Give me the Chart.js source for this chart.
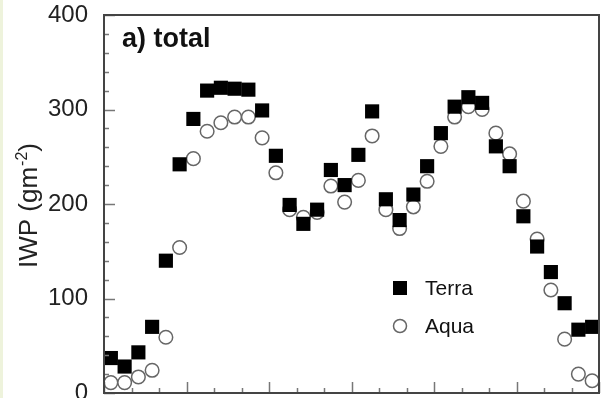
<!DOCTYPE html>
<html>
<head>
<meta charset="utf-8">
<script src="https://cdn.jsdelivr.net/npm/chart.js@4/dist/chart.umd.min.js"></script>
<style>
  html, body { margin: 0; padding: 0; background: #fff; overflow: hidden; }
  #wrap { position: absolute; left: 0; top: 0; width: 609px; height: 430px; }
  #edge { position: absolute; left: 0; top: 0; width: 3px; height: 398px; background: #eef3dc; }
</style>
</head>
<body>
<div id="wrap"><canvas id="iwpChart" width="609" height="430"></canvas></div>
<div id="edge"></div>
<script>
// ===== Data =====
// bin centres along the x axis (axis labels are cut off in the source)
const binCenters = [5, 15, 25, 35, 45, 55, 65, 75, 85, 95, 105, 115,
  125, 135, 145, 155, 165, 175, 185, 195, 205, 215, 225, 235,
  245, 255, 265, 275, 285, 295, 305, 315, 325, 335, 345, 355];

const terraIWP = [37, 28, 43, 70, 140, 242, 290, 320, 323, 322, 321, 299,
  251, 199, 179, 194, 236, 220, 252, 298, 205, 183, 210, 240,
  275, 303, 313, 307, 261, 240, 187, 155, 128, 95, 67, 70];

const aquaIWP = [11, 11, 17, 24, 59, 154, 248, 277, 286, 292, 292, 270,
  233, 194, 186, 191, 219, 202, 225, 272, 194, 174, 197, 224,
  261, 292, 303, 300, 275, 253, 203, 163, 109, 57, 20, 13];

const yTicks = [0, 100, 200, 300, 400];
const panelLabel = 'a) total';
const seriesNames = ['Terra', 'Aqua'];

const FONT = '"Liberation Sans", Arial, Helvetica, sans-serif';

function toPoints(vals) {
  return binCenters.map((x, i) => ({ x, y: vals[i] }));
}

// frame, inward tick marks, panel label, y title and legend
const decorPlugin = {
  id: 'decor',
  afterDatasetsDraw(chart) {
    const { ctx, chartArea: a, scales: { x, y } } = chart;
    ctx.save();

    // inward ticks: major/minor on left and bottom only
    ctx.strokeStyle = '#777';
    ctx.lineWidth = 1.5;
    ctx.beginPath();
    for (let v = y.min; v <= y.max; v += 20) {
      const py = Math.round(y.getPixelForValue(v)) + 0.5;
      const len = yTicks.includes(v) ? 11 : 5;
      ctx.moveTo(a.left, py); ctx.lineTo(a.left + len, py);
    }
    for (let v = x.min; v <= x.max; v += 20) {
      const px = Math.round(x.getPixelForValue(v)) + 0.5;
      const len = v % 60 === 0 ? 11 : 5;
      ctx.moveTo(px, a.bottom); ctx.lineTo(px, a.bottom - len);
    }
    ctx.stroke();

    // box
    ctx.strokeStyle = '#444';
    ctx.lineWidth = 2;
    ctx.strokeRect(a.left, a.top, a.right - a.left, a.bottom - a.top);

    // panel label
    ctx.fillStyle = '#111';
    ctx.font = `bold 27px ${FONT}`;
    ctx.textAlign = 'left';
    ctx.textBaseline = 'alphabetic';
    ctx.fillText(panelLabel, a.left + 18, a.top + 32);

    // y title with superscript
    const main = 'IWP (gm', sup = '-2', tail = ')';
    ctx.font = `26px ${FONT}`;
    const wMain = ctx.measureText(main).width;
    const wTail = ctx.measureText(tail).width;
    ctx.font = `16px ${FONT}`;
    const wSup = ctx.measureText(sup).width;
    const total = wMain + wSup + wTail;
    const cy = (a.top + a.bottom) / 2 + 2;
    ctx.translate(37, cy + total / 2);
    ctx.rotate(-Math.PI / 2);
    ctx.fillStyle = '#222';
    ctx.font = `26px ${FONT}`;
    ctx.fillText(main, 0, 0);
    ctx.font = `16px ${FONT}`;
    ctx.fillText(sup, wMain + 1, -10);
    ctx.font = `26px ${FONT}`;
    ctx.fillText(tail, wMain + wSup + 1, 0);
    ctx.setTransform(1, 0, 0, 1, 0, 0);

    // legend
    const lx = a.left + 296;
    const rows = [a.top + 273, a.top + 311];
    chart.data.datasets.forEach((ds, i) => {
      ctx.fillStyle = ds.backgroundColor;
      ctx.strokeStyle = ds.borderColor;
      ctx.lineWidth = ds.borderWidth;
      ctx.beginPath();
      if (ds.pointStyle === 'rect') {
        ctx.fillRect(lx - 7, rows[i] - 7, 14, 14);
      } else {
        ctx.arc(lx, rows[i], 6.5, 0, Math.PI * 2);
        ctx.fill();
        ctx.stroke();
      }
      ctx.fillStyle = '#111';
      ctx.font = `21px ${FONT}`;
      ctx.fillText(ds.label, lx + 25, rows[i] + 7);
    });

    ctx.restore();
  }
};

const ctx = document.getElementById('iwpChart').getContext('2d');
new Chart(ctx, {
  type: 'scatter',
  data: {
    datasets: [{
      label: seriesNames[0],
      data: toPoints(terraIWP),
      pointStyle: 'rect',
      pointRadius: 10,
      backgroundColor: '#000',
      borderColor: '#000',
      borderWidth: 0
    }, {
      label: seriesNames[1],
      data: toPoints(aquaIWP),
      pointStyle: 'circle',
      pointRadius: 6.8,
      backgroundColor: '#fff',
      borderColor: '#666',
      borderWidth: 1.5
    }]
  },
  options: {
    responsive: false, animation: false, devicePixelRatio: 1,
    layout: { padding: { top: 15, right: 1, bottom: 37, left: 0 } },
    plugins: { legend: { display: false }, tooltip: { enabled: false } },
    scales: {
      x: {
        type: 'linear', min: 0, max: 360,
        ticks: { display: false, stepSize: 60 },
        grid: { display: false, drawTicks: false },
        border: { display: false },
        afterFit: s => { s.height = 0; s.paddingLeft = 0; s.paddingRight = 0; }
      },
      y: {
        min: 0, max: 400,
        afterBuildTicks: s => { s.ticks = yTicks.map(v => ({ value: v })); },
        ticks: { padding: 16, color: '#222', font: { size: 24, family: FONT } },
        grid: { display: false, drawTicks: false },
        border: { display: false },
        afterFit: s => { s.width = 104; s.paddingTop = 0; s.paddingBottom = 0; }
      }
    }
  },
  plugins: [decorPlugin]
});
</script>
</body>
</html>
